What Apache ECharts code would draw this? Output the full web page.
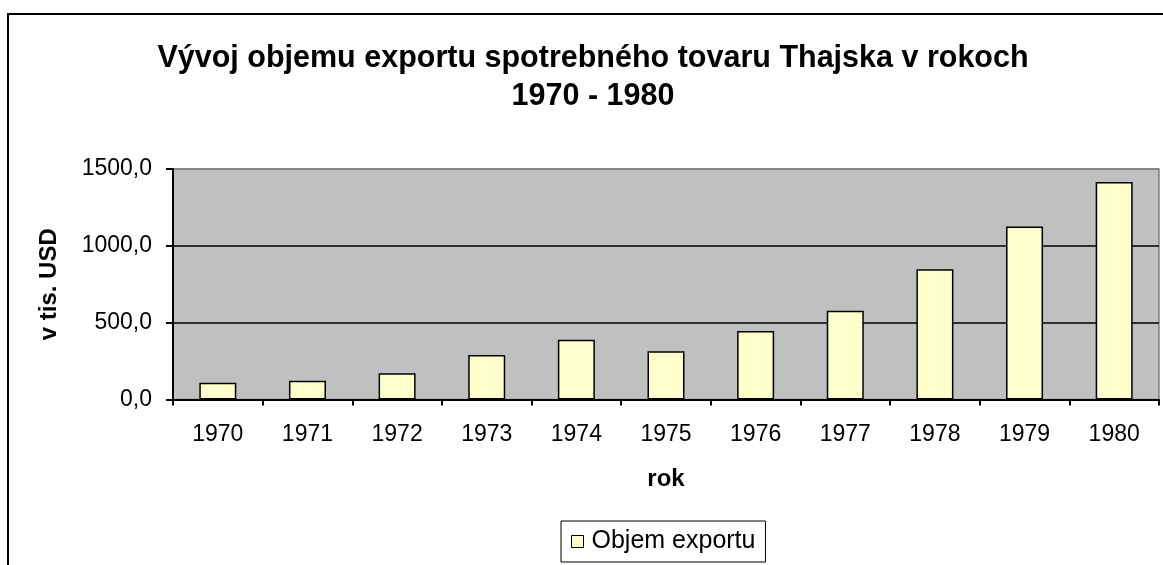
<!DOCTYPE html>
<html>
<head>
<meta charset="utf-8">
<script src="https://cdn.jsdelivr.net/npm/echarts@6/dist/echarts.min.js"></script>
<style>
  html, body { margin: 0; padding: 0; background: #fff; }
  #chart { width: 1163px; height: 565px; }
</style>
</head>
<body>
<div id="chart"></div>
<script>
// data
const years = ['1970', '1971', '1972', '1973', '1974', '1975', '1976', '1977', '1978', '1979', '1980'];
const exportVolume = [109, 122, 171, 290, 389, 314, 446, 578, 848, 1126, 1415];
const yTicks = [0, 500, 1000, 1500];

const FONT = '"Liberation Sans", Arial, sans-serif';

const chart = echarts.init(document.getElementById('chart'));

chart.setOption({
  animation: false,
  textStyle: { fontFamily: FONT, color: '#000' },
  title: {
    text: 'Vývoj objemu exportu spotrebného tovaru Thajska v rokoch\n1970 - 1980',
    left: 588,
    top: 35,
    textAlign: 'center',
    textStyle: {
      fontFamily: FONT,
      fontSize: 30.5,
      fontWeight: 'bold',
      color: '#000',
      lineHeight: 38
    }
  },
  graphic: [
    {
      type: 'rect',
      shape: { x: 8, y: 14, width: 1170, height: 580 },
      style: { fill: 'none', stroke: '#000', lineWidth: 2 },
      silent: true
    }
  ],
  legend: {
    data: ['Objem exportu'],
    left: 561,
    top: 521,
    padding: [8, 10, 8, 10],
    borderColor: '#000',
    borderWidth: 1,
    icon: 'rect',
    itemWidth: 12,
    itemHeight: 12,
    itemStyle: { borderColor: '#000', borderWidth: 1 },
    textStyle: { fontFamily: FONT, fontSize: 25, color: '#000', padding: [0, 0, 0, 3] }
  },
  grid: {
    left: 173,
    right: 4,
    top: 169,
    bottom: 165.5,
    show: true,
    backgroundColor: '#c0c0c0',
    borderColor: '#808080',
    borderWidth: 1.5
  },
  xAxis: {
    type: 'category',
    data: years,
    name: 'rok',
    nameLocation: 'middle',
    nameGap: 68,
    nameTextStyle: { fontFamily: FONT, fontSize: 24, fontWeight: 'bold', color: '#000' },
    axisLine: { lineStyle: { color: '#000', width: 2 } },
    axisTick: { show: true, length: 6, lineStyle: { color: '#000', width: 2 } },
    axisLabel: { fontFamily: FONT, fontSize: 23, color: '#000', margin: 24 }
  },
  yAxis: {
    type: 'value',
    min: yTicks[0],
    max: yTicks[yTicks.length - 1],
    interval: yTicks[1] - yTicks[0],
    name: 'v tis. USD',
    nameLocation: 'middle',
    nameGap: 112,
    nameRotate: 90,
    nameTextStyle: { fontFamily: FONT, fontSize: 24, fontWeight: 'bold', color: '#000' },
    axisLine: { show: true, lineStyle: { color: '#000', width: 2 } },
    axisTick: { show: true, length: 7, lineStyle: { color: '#000', width: 2 } },
    axisLabel: {
      fontFamily: FONT,
      fontSize: 23,
      color: '#000',
      margin: 21,
      formatter: v => v.toFixed(1).replace('.', ',')
    },
    splitLine: { show: true, lineStyle: { color: ['#000', '#000', '#000', '#808080'], width: 1.5 } }
  },
  series: [
    {
      name: 'Objem exportu',
      type: 'bar',
      data: exportVolume,
      barWidth: 37,
      itemStyle: { color: '#ffffcc', borderColor: '#000', borderWidth: 1.5 }
    }
  ]
});
</script>
</body>
</html>
